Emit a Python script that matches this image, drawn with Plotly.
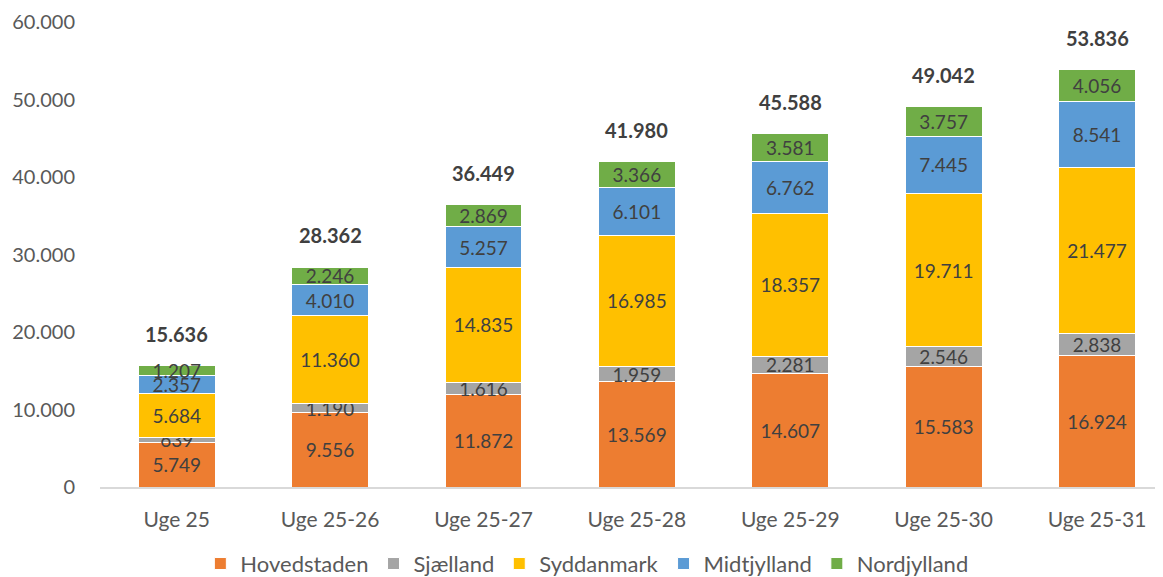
import plotly.graph_objects as go

categories = ["Uge 25", "Uge 25-26", "Uge 25-27", "Uge 25-28", "Uge 25-29", "Uge 25-30", "Uge 25-31"]
hovedstaden = [5749, 9556, 11872, 13569, 14607, 15583, 16924]
sjaelland = [639, 1190, 1616, 1959, 2281, 2546, 2838]
syddanmark = [5684, 11360, 14835, 16985, 18357, 19711, 21477]
midtjylland = [2357, 4010, 5257, 6101, 6762, 7445, 8541]
nordjylland = [1207, 2246, 2869, 3366, 3581, 3757, 4056]
totals = [15636, 28362, 36449, 41980, 45588, 49042, 53836]
y_ticks = [0, 10000, 20000, 30000, 40000, 50000, 60000]

series = [
    ("Hovedstaden", hovedstaden, "#ED7D31"),
    ("Sjælland", sjaelland, "#A5A5A5"),
    ("Syddanmark", syddanmark, "#FFC000"),
    ("Midtjylland", midtjylland, "#5B9BD5"),
    ("Nordjylland", nordjylland, "#70AD47"),
]

FONT = "Lato"
fig = go.Figure()
for name, vals, col in series:
    fig.add_trace(go.Bar(
        name=name, x=categories, y=vals,
        marker=dict(color=col, line=dict(color="white", width=1)),
        texttemplate="%{y:,.0f}", textposition="inside",
        insidetextanchor="middle", textangle=0,
        textfont=dict(family=FONT, size=19, color="#404040"),
        constraintext="none", cliponaxis=False,
    ))

for c, t in zip(categories, totals):
    fig.add_annotation(x=c, y=t, text="<b>" + f"{t:,}".replace(",", ".") + "</b>",
                       showarrow=False, yshift=32, yanchor="middle",
                       font=dict(family=FONT, size=20, color="#404040"))

# page body has an 8px margin; figure is sized/offset to compensate
fig.update_layout(
    barmode="stack", bargap=0.5,
    separators=",.",
    width=1155, height=569,
    margin=dict(l=92, r=0, t=14, b=90, autoexpand=False),
    paper_bgcolor="white", plot_bgcolor="white",
    font=dict(family=FONT, size=20, color="#595959"),
    uniformtext=dict(minsize=19, mode="show"),
    showlegend=True,
    legend=dict(orientation="h", x=0.458, xanchor="center", y=-0.165, yanchor="middle",
                font=dict(family=FONT, size=22, color="#595959"),
                itemwidth=30, traceorder="normal"),
    xaxis=dict(range=[-0.5, 6.43], showline=True, linecolor="#D9D9D9", linewidth=2,
               ticks="", showgrid=False, ticklabelstandoff=13,
               tickfont=dict(family=FONT, size=21, color="#595959")),
    yaxis=dict(range=[0, 60000], tickvals=y_ticks, tickformat=",.0f", showgrid=False,
               zeroline=False, showline=False, ticks="", ticklabelstandoff=24,
               tickfont=dict(family=FONT, size=20, color="#595959")),
)
fig.write_html("out.html")
